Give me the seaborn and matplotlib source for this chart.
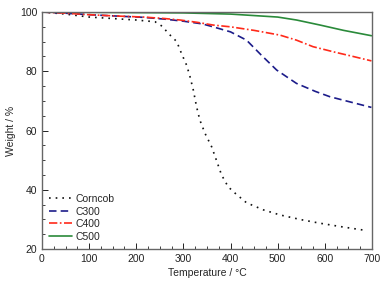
import matplotlib
matplotlib.use("Agg")
import matplotlib.pyplot as plt
import seaborn as sns
import pandas as pd
from matplotlib.ticker import MultipleLocator

sns.set_style("white")
plt.rcParams['font.family'] = ['Liberation Sans', 'DejaVu Sans']

series_names = ["Corncob", "C300", "C400", "C500"]

corncob_t = [0, 50, 100, 150, 200, 240, 255, 268, 286, 296, 307, 314, 321, 328, 335, 346, 360, 370, 381, 395, 410, 434, 470, 505, 550, 590, 640, 690]
corncob_w = [100, 99.3, 98.3, 97.8, 97.3, 96.7, 95.2, 92.8, 90, 86, 82, 78.2, 73.7, 68, 63.5, 59, 54.5, 50, 45, 41, 38.8, 35.6, 33.2, 31.5, 29.9, 28.7, 27.4, 26.2]

c300_t = [0, 50, 100, 150, 215, 260, 300, 340, 363, 400, 434, 465, 498, 540, 580, 611, 650, 699]
c300_w = [100, 99.6, 99.1, 98.7, 98.2, 97.6, 96.9, 96.0, 95.0, 93.3, 90.5, 85.5, 80.4, 75.9, 73.2, 71.4, 69.8, 67.8]

c400_t = [0, 50, 100, 150, 215, 260, 293, 330, 363, 400, 450, 505, 540, 575, 620, 660, 699]
c400_w = [100, 99.6, 99.1, 98.7, 98.3, 97.8, 97.3, 96.5, 95.6, 95.0, 93.8, 92.2, 90.5, 88.3, 86.5, 85.0, 83.5]

c500_t = [0, 100, 200, 300, 400, 450, 500, 540, 590, 640, 699]
c500_w = [100, 99.9, 99.8, 99.7, 99.3, 98.8, 98.3, 97.3, 95.6, 93.8, 92.0]

frames = []
for name, t, w in [("Corncob", corncob_t, corncob_w), ("C300", c300_t, c300_w),
                   ("C400", c400_t, c400_w), ("C500", c500_t, c500_w)]:
    frames.append(pd.DataFrame({"T": t, "W": w, "series": name}))
df = pd.concat(frames, ignore_index=True)

colors = {"Corncob": "#111111", "C300": "#1c1c8a", "C400": "#ff2a1a", "C500": "#2a8a3a"}
styles = {"Corncob": (0, (1, 3)), "C300": (0, (4.5, 2.5)), "C400": (0, (5, 1.5, 1, 1.5)), "C500": "-"}

fig = plt.figure(figsize=(3.87, 2.84), dpi=100)
ax = fig.add_axes([0.1085, 0.1232, 0.8525, 0.8345])

for name in series_names:
    sub = df[df["series"] == name]
    sns.lineplot(data=sub, x="T", y="W", ax=ax, color=colors[name], linestyle=styles[name],
                 linewidth=1.2, label=name, sort=True)

ax.set_xlim(0, 700)
ax.set_ylim(20, 100)
ax.xaxis.set_major_locator(MultipleLocator(100))
ax.xaxis.set_minor_locator(MultipleLocator(25))
ax.yaxis.set_major_locator(MultipleLocator(20))
ax.yaxis.set_minor_locator(MultipleLocator(5))
ax.tick_params(which="both", direction="in", top=False, right=False, bottom=True, left=True,
               labelsize=7.5, colors="#222222")
ax.tick_params(which="major", length=4, width=0.7)
ax.tick_params(which="minor", length=2, width=0.6)
for s in ax.spines.values():
    s.set_color("#666666")
    s.set_linewidth(1.0)

ax.set_xlabel("Temperature / °C", fontsize=7.5, labelpad=3)
ax.set_ylabel("Weight / %", fontsize=7.5, labelpad=3)

leg = ax.legend(loc="lower left", frameon=False, fontsize=7.5, handlelength=2.2,
                handletextpad=0.3, labelspacing=0.25, borderaxespad=0.3,
                bbox_to_anchor=(0.0, 0.0))

fig.savefig("out.png", dpi=100)
